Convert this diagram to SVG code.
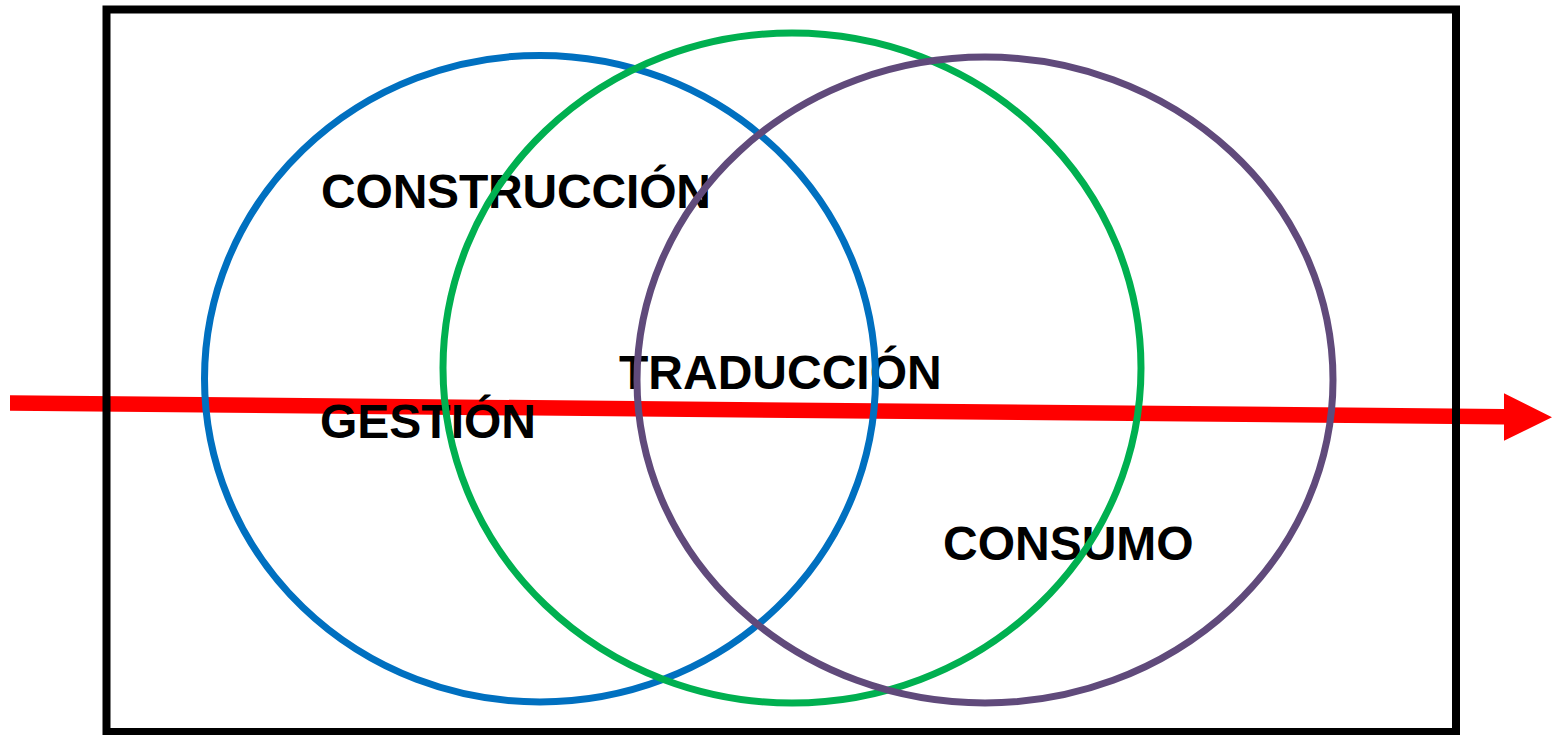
<svg xmlns="http://www.w3.org/2000/svg" width="1559" height="735" viewBox="0 0 1559 735">
  <style>
    .ell { fill: none; stroke-width: 7; }
    .lbl { font-family: "Liberation Sans", Arial, sans-serif; font-weight: bold; font-size: 48px; fill: #000; }
  </style>
  <rect width="1559" height="735" fill="#fff"/>
  <g id="connectors">
    <polygon id="arrow" fill="#FF0000" points="10,395.3 1504,409 1504,393.3 1552,417.3 1504,440.7 1504,424.5 10,410.8"/>
  </g>
  <rect id="frame" x="106.5" y="9.5" width="1349.5" height="722.5" fill="none" stroke="#000" stroke-width="8"/>
  <g id="labels">
    <text class="lbl" x="321" y="207.5" textLength="390">CONSTRUCCIÓN</text>
    <text class="lbl" x="619" y="388.5">TRADUCCIÓN</text>
    <text class="lbl" x="320" y="438">GESTIÓN</text>
    <text class="lbl" x="943" y="559.5">CONSUMO</text>
  </g>
  <g id="construccion"><ellipse class="ell" cx="540" cy="378.7" rx="335.5" ry="323.3" stroke="#0070C0"/></g>
  <g id="traduccion"><ellipse class="ell" cx="792" cy="368" rx="349" ry="335" stroke="#00B050"/></g>
  <g id="consumo"><ellipse class="ell" cx="985" cy="380" rx="348" ry="323" stroke="#604A7B"/></g>
</svg>
